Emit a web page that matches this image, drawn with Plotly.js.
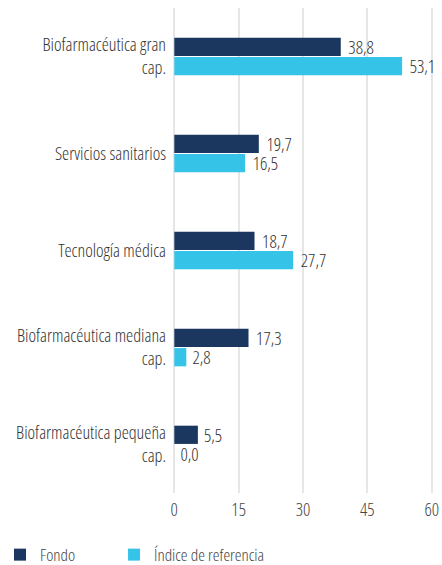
<!DOCTYPE html>
<html><head><meta charset="utf-8">
<script src="https://cdn.plot.ly/plotly-3.0.1.min.js"></script>
<style>body{margin:0;background:#fff}#c{width:442px;height:565px}
.main-svg text{font-stretch:condensed}</style>
</head><body><div id="c"></div>
<script>
const categories = ["Biofarmacéutica gran<br>cap.", "Servicios sanitarios", "Tecnología médica", "Biofarmacéutica mediana<br>cap.", "Biofarmacéutica pequeña<br>cap."];
const fondo = [38.8, 19.7, 18.7, 17.3, 5.5];
const indice = [53.1, 16.5, 27.7, 2.8, 0.0];
const seriesNames = ["Fondo", "Índice de referencia"];
const xTicks = [0, 15, 30, 45, 60];
const FONT = "Open Sans, sans-serif";
const fmt = v => v.toFixed(1).replace('.', ',');
const mk = (vals, name, color, lg) => ({
  type: 'bar', orientation: 'h', y: categories, x: vals, name: name, legend: lg,
  marker: {color: color},
  text: vals.map(fmt), textposition: 'outside', cliponaxis: false, constraintext: 'none',
  textfont: {family: FONT, size: 18, color: '#333', weight: 300},
  hoverinfo: 'none'
});
const legendBase = {orientation: 'h', xref: 'container', xanchor: 'left', y: -0.128, yanchor: 'middle',
                    font: {size: 17, color: '#444', weight: 300}};
Plotly.newPlot('c', [mk(fondo, seriesNames[0], '#1b365f', 'legend'), mk(indice, seriesNames[1], '#35c4e8', 'legend2')], {
  width: 442, height: 565,
  margin: {l: 173, r: 9, t: 8, b: 72, autoexpand: false},
  barmode: 'group', bargap: 0.6, bargroupgap: 0.06,
  font: {family: FONT, size: 18, color: '#444', weight: 300},
  xaxis: {range: [-0.3, 60.3], tickvals: xTicks, showgrid: true, gridcolor: '#e6e6e6', gridwidth: 2,
          zeroline: false, showline: false, ticks: '', ticklabelstandoff: 4,
          tickfont: {size: 18, color: '#444', weight: 300}},
  yaxis: {autorange: 'reversed', ticks: '', showline: false, ticklabelstandoff: 6,
          tickfont: {size: 18, color: '#333', weight: 300}},
  legend: Object.assign({}, legendBase, {x: 0}),
  legend2: Object.assign({}, legendBase, {x: 0.258}),
  showlegend: true
}, {staticPlot: true});
</script></body></html>
